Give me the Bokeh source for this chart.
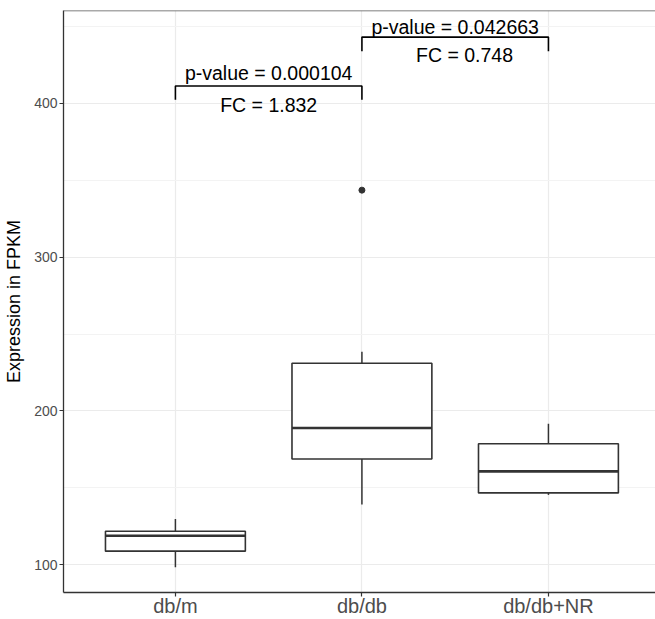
from bokeh.plotting import figure
from bokeh.models import Range1d, FixedTicker, SingleIntervalTicker, Span, ColumnDataSource
from bokeh.core.properties import value
from bokeh.embed import file_html
from bokeh.resources import INLINE

# ---- data ----
categories = ["db/m", "db/db", "db/db+NR"]
lower_whisker = [98.3, 139.0, 145.3]
q1 = [108.7, 168.7, 146.6]
median = [118.7, 188.8, 160.6]
q3 = [121.7, 231.0, 178.6]
upper_whisker = [129.7, 238.4, 191.6]
outlier_cat = [1]
outlier_val = [343.6]

# comparisons (pairs of category indices)
comp_from = [0, 1]
comp_to = [1, 2]
pvalue_labels = ["p-value = 0.000104", "p-value = 0.042663"]
fc_labels = ["FC = 1.832", "FC = 0.748"]
bracket_y = [411.4, 443.2]
bracket_tip_y = [402.4, 434.0]
pvalue_y = [420.0, 449.8]
fc_y = [399.0, 431.5]
fc_x_shift = [0.0, 0.05]

y_title = "Expression in FPKM"

FONT = "Liberation Sans"
DARK = "#333333"

p = figure(width=655, height=619, output_backend="svg", toolbar_location=None,
           x_range=Range1d(-0.6, 2.574), y_range=Range1d(81.8, 460.5),
           min_border_left=63, min_border_right=0, min_border_top=10, min_border_bottom=27)
p.title.visible = False
p.outline_line_color = None
p.background_fill_color = "white"
p.border_fill_color = "white"

xs = list(range(len(categories)))

# grids
p.xaxis.ticker = FixedTicker(ticks=xs)
p.xaxis.major_label_overrides = {i: c for i, c in enumerate(categories)}
p.yaxis.ticker = SingleIntervalTicker(interval=100, num_minor_ticks=2)
p.xgrid.ticker = FixedTicker(ticks=xs)
p.xgrid.grid_line_color = "#EBEBEB"
p.xgrid.grid_line_width = 1.2
p.ygrid.grid_line_color = "#EBEBEB"
p.ygrid.grid_line_width = 1.2
p.ygrid.minor_grid_line_color = "#F3F3F3"
p.ygrid.minor_grid_line_width = 1.0

# axes
for ax in (p.xaxis[0], p.yaxis[0]):
    ax.axis_line_color = DARK
    ax.axis_line_width = 1.3
    ax.major_tick_line_color = DARK
    ax.major_tick_line_width = 1.2
    ax.major_tick_in = 0
    ax.major_tick_out = 4
    ax.minor_tick_line_color = None
    ax.major_label_text_color = "#4D4D4D"
    ax.major_label_text_font = FONT

p.xaxis.major_label_text_font_size = "20px"
p.xaxis.major_label_standoff = -2
p.yaxis.major_label_text_font_size = "14px"
p.yaxis.major_label_standoff = 2
p.yaxis.axis_label = y_title
p.yaxis.axis_label_text_font = FONT
p.yaxis.axis_label_text_font_size = "18px"
p.yaxis.axis_label_text_font_style = "normal"
p.yaxis.axis_label_text_color = "black"
p.yaxis.axis_label_standoff = 7

# top panel border
p.add_layout(Span(location=460.5, dimension="width", line_color="#555555", line_width=1.5))

# boxplots
box_w = 0.75
src = ColumnDataSource(dict(x=xs, lo=lower_whisker, q1=q1, med=median, q3=q3, hi=upper_whisker,
                            left=[x - box_w / 2 for x in xs], right=[x + box_w / 2 for x in xs]))
p.segment(x0="x", y0="q3", x1="x", y1="hi", source=src, line_color=DARK, line_width=1.5)
p.segment(x0="x", y0="lo", x1="x", y1="q1", source=src, line_color=DARK, line_width=1.5)
p.quad(left="left", right="right", bottom="q1", top="q3", source=src,
       fill_color="white", line_color=DARK, line_width=1.6)
p.segment(x0="left", y0="med", x1="right", y1="med", source=src, line_color=DARK, line_width=2.6)
p.scatter(x=outlier_cat, y=outlier_val, size=6, color=DARK, marker="circle")

# comparison brackets
bx, by = [], []
for a, b, yb, yt in zip(comp_from, comp_to, bracket_y, bracket_tip_y):
    bx.append([a, a, b, b])
    by.append([yt, yb, yb, yt])
p.multi_line(xs=bx, ys=by, line_color="black", line_width=1.6)

mid = [(a + b) / 2 for a, b in zip(comp_from, comp_to)]
p.text(x=mid, y=pvalue_y, text=pvalue_labels, text_font=value(FONT), text_font_size="19.5px",
       text_align="center", text_baseline="alphabetic", text_color="black")
p.text(x=[m + s for m, s in zip(mid, fc_x_shift)], y=fc_y, text=fc_labels, text_font=value(FONT),
       text_font_size="19.5px", text_align="center", text_baseline="alphabetic", text_color="black")

open("out.html", "w").write(file_html(p, INLINE))
